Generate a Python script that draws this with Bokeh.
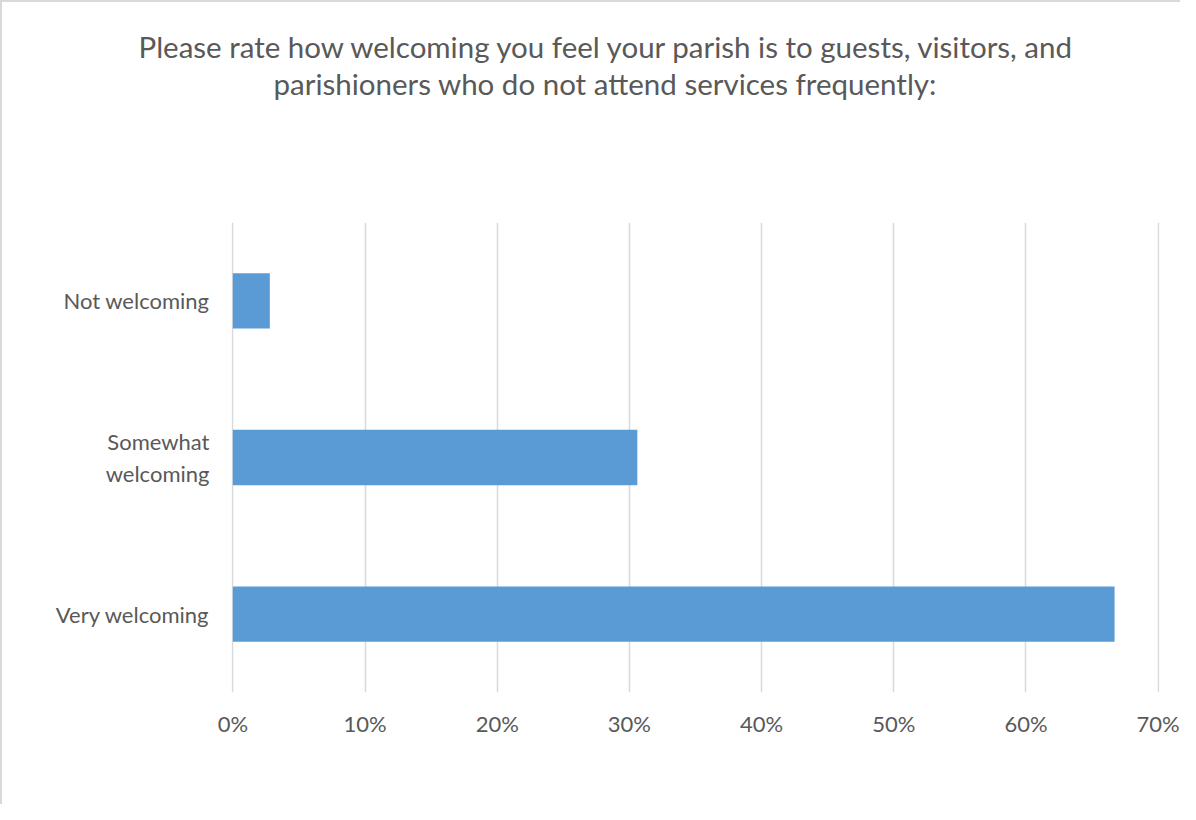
from bokeh.plotting import figure
from bokeh.models import Range1d, FixedTicker, NumeralTickFormatter, Title, LinearAxis
from bokeh.embed import file_html
from bokeh.resources import INLINE

categories = ["Very welcoming", "Somewhat\nwelcoming", "Not welcoming"]
values = [0.667, 0.306, 0.028]
x_ticks = [0.0, 0.1, 0.2, 0.3, 0.4, 0.5, 0.6, 0.7]
title_lines = [
    "Please rate how welcoming you feel your parish is to guests, visitors, and",
    "parishioners who do not attend services frequently:",
]

FONT = "Lato"
TEXT = "#595959"

p = figure(width=1180, height=804, y_range=categories, x_range=Range1d(-0.001, 0.701),
           output_backend="svg", toolbar_location=None,
           min_border_left=229, min_border_right=23, min_border_top=220,
           min_border_bottom=114)

p.hbar(y=categories, right=values, left=0, height=0.353, color="#5B9BD5", line_color=None)

p.outline_line_color = None
p.background_fill_color = "white"
p.border_fill_color = "white"

p.xaxis.ticker = FixedTicker(ticks=x_ticks)
p.xaxis.formatter = NumeralTickFormatter(format="0%")
p.xaxis.axis_line_color = None
p.xaxis.major_tick_line_color = None
p.xaxis.minor_tick_line_color = None
p.xaxis.major_label_text_font = FONT
p.xaxis.major_label_text_font_size = "22px"
p.xaxis.major_label_text_color = TEXT
p.xaxis.major_label_standoff = 11

p.yaxis.axis_line_color = None
p.yaxis.major_tick_line_color = None
p.yaxis.minor_tick_line_color = None
p.yaxis.major_label_text_font = FONT
p.yaxis.major_label_text_font_size = "22px"
p.yaxis.major_label_text_color = TEXT
p.yaxis.major_label_standoff = 16

p.xgrid.grid_line_color = "#D9D9D9"
p.xgrid.grid_line_width = 1.5
p.ygrid.grid_line_color = None

# invisible spacer between the plot area and the title lines
spacer = LinearAxis(ticker=FixedTicker(ticks=[0.35]), major_tick_out=122, major_tick_in=0,
                    major_label_standoff=0, major_label_text_font_size="1px",
                    major_label_text_color=None, axis_line_color=None,
                    major_tick_line_color=None, minor_tick_line_color=None)
p.add_layout(spacer, "above")

# add the line nearest the plot first, then the one above it
offsets = [-93, 42]
for line, off in reversed(list(zip(title_lines, offsets))):
    p.add_layout(Title(text=line, text_font=FONT, text_font_size="29.5px",
                       text_font_style="normal", text_color=TEXT, align="left",
                       offset=off, standoff=0), "above")

p.styles = {"border-top": "2px solid #D9D9D9", "border-left": "2px solid #D9D9D9"}

open("out.html", "w").write(file_html(p, INLINE))
